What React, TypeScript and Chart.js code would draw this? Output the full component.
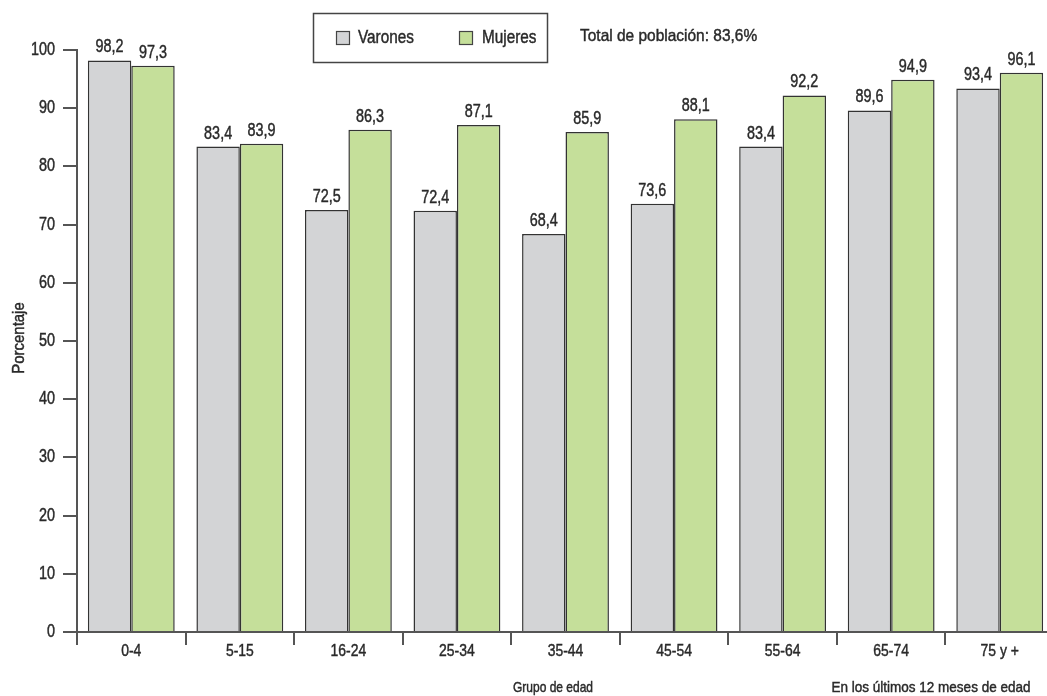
import React, { useEffect, useRef } from "react";
import { Chart, registerables } from "chart.js";

Chart.register(...registerables);

const categories = ["0-4", "5-15", "16-24", "25-34", "35-44", "45-54", "55-64", "65-74", "75 y +"];
const varones = [98.2, 83.4, 72.5, 72.4, 68.4, 73.6, 83.4, 89.6, 93.4];
const mujeres = [97.3, 83.9, 86.3, 87.1, 85.9, 88.1, 92.2, 94.9, 96.1];
const seriesNames = ["Varones", "Mujeres"];
const yTickValues = [0, 10, 20, 30, 40, 50, 60, 70, 80, 90, 100];
const totalText = "Total de población: 83,6%";
const yTitle = "Porcentaje";
const xTitle = "Grupo de edad";
const footnote = "En los últimos 12 meses de edad";

const FONT = '"Liberation Sans", Arial, Helvetica, sans-serif';
const GREY = "#d3d4d6";
const GREEN = "#c5df9a";
const TEXT = "#2a2a2a";

const fmt = (v: number) => v.toFixed(1).replace(".", ",");

function narrow(ctx: any, text: string, x: number, y: number, size: number, sx: number, align: string, rot = 0) {
  ctx.save();
  ctx.translate(x, y);
  if (rot) ctx.rotate(rot);
  ctx.scale(sx, 1);
  ctx.font = `${size}px ${FONT}`;
  ctx.textAlign = align;
  ctx.textBaseline = "middle";
  ctx.fillStyle = TEXT;
  ctx.strokeStyle = TEXT;
  ctx.lineWidth = 0.45;
  ctx.fillText(text, 0, 0);
  ctx.strokeText(text, 0, 0);
  ctx.restore();
}

const overlay = {
  id: "overlay",
  afterDraw(chart: any) {
    const ctx = chart.ctx;
    const xs = chart.scales.x;
    const ys = chart.scales.y;
    ctx.save();
    chart.data.datasets.forEach((ds: any, i: number) => {
      const meta = chart.getDatasetMeta(i);
      meta.data.forEach((bar: any, j: number) => {
        narrow(ctx, fmt(ds.data[j]), bar.x, bar.y - 13, 18, 0.8, "center");
      });
    });
    yTickValues.forEach((v) => {
      narrow(ctx, String(v), 55, ys.getPixelForValue(v), 18, 0.8, "right");
    });
    categories.forEach((c, i) => {
      narrow(ctx, c, xs.getPixelForValue(i), 651, 17, 0.82, "center");
    });
    ctx.strokeStyle = "#444";
    ctx.lineWidth = 1.5;
    ctx.strokeRect(313.5, 13.5, 234, 49);
    const sw = [
      { x: 336, color: GREY, label: seriesNames[0], tx: 358 },
      { x: 459, color: GREEN, label: seriesNames[1], tx: 482 },
    ];
    sw.forEach((s) => {
      ctx.fillStyle = s.color;
      ctx.fillRect(s.x, 31, 13, 13);
      ctx.strokeStyle = "#444";
      ctx.lineWidth = 1.2;
      ctx.strokeRect(s.x + 0.5, 31.5, 13, 13);
      narrow(ctx, s.label, s.tx, 38, 18, 0.85, "left");
    });
    narrow(ctx, totalText, 580, 36, 17, 0.91, "left");
    narrow(ctx, xTitle, 553, 688, 15, 0.8, "center");
    narrow(ctx, footnote, 931, 688, 15, 0.9, "center");
    narrow(ctx, yTitle, 19, 338, 17, 0.88, "center", -Math.PI / 2);
    ctx.restore();
  },
};

export default function App() {
  const ref = useRef<HTMLCanvasElement>(null);
  useEffect(() => {
    document.body.style.margin = "0";
    const chart = new Chart(ref.current!, {
      type: "bar",
      data: {
        labels: categories,
        datasets: [
          { label: seriesNames[0], data: varones, backgroundColor: GREY, borderColor: "#333", borderWidth: 1.5 },
          { label: seriesNames[1], data: mujeres, backgroundColor: GREEN, borderColor: "#333", borderWidth: 1.5 },
        ],
      },
      options: {
        animation: false,
        responsive: false,
        layout: { padding: { top: 50, right: 0, bottom: 0, left: 0 } },
        datasets: { bar: { categoryPercentage: 0.8, barPercentage: 1.0 } },
        plugins: { legend: { display: false }, tooltip: { enabled: false }, title: { display: false } },
        scales: {
          x: {
            afterFit: (s: any) => { s.height = 64; },
            grid: { offset: true, drawOnChartArea: false, drawTicks: true, tickLength: 13, color: "#555", lineWidth: 2 },
            border: { display: true, color: "#555", width: 2 },
            ticks: { display: false },
          },
          y: {
            min: 0,
            max: 100,
            afterFit: (s: any) => { s.width = 77; },
            grid: { drawOnChartArea: false, drawTicks: true, tickLength: 14, color: "#555", lineWidth: 2 },
            border: { display: true, color: "#555", width: 2 },
            ticks: { display: false, stepSize: 10 },
          },
        },
      },
      plugins: [overlay],
    });
    return () => chart.destroy();
  }, []);
  return (
    <div style={{ width: 1047, height: 696, overflow: "hidden" }}>
      <canvas ref={ref} width={1054} height={696} style={{ display: "block" }} />
    </div>
  );
}
